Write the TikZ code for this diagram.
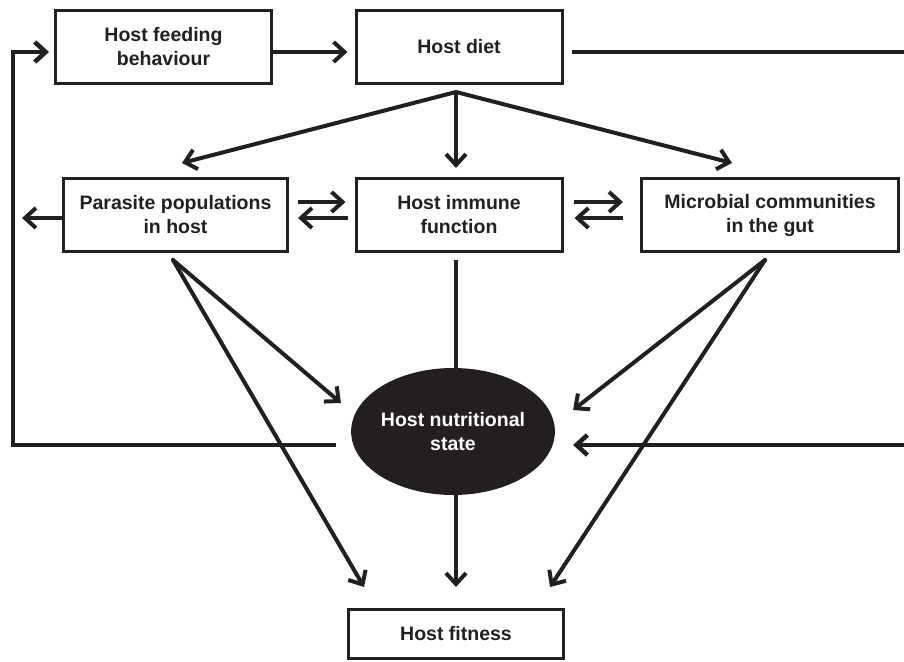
\documentclass[tikz,border=0pt]{standalone}
\usepackage{fontspec}
\setmainfont{Liberation Sans}
\usepackage{tikz}
\usetikzlibrary{shapes,positioning,arrows.meta}
\definecolor{ink}{HTML}{231F20}
\tikzset{box/.style={rectangle,draw=ink,line width=3pt,align=center,text=ink,font=\bfseries\fontsize{19.5}{24}\selectfont,minimum height=73pt,inner sep=0pt}}
\tikzset{blob/.style={ellipse,fill=ink,text=white,align=center,font=\bfseries\fontsize{19.5}{24}\selectfont,minimum width=194pt,minimum height=127pt,inner sep=0pt}}
\tikzset{arr/.style={draw=ink,line width=4pt,-{Straight Barb[length=11pt,width=20pt]}}}
\tikzset{heavy/.style={draw=ink,line width=4.5pt}}

\begin{document}
\begin{tikzpicture}[x=1pt,y=-1pt]
    \useasboundingbox (0,0) rectangle (904,661);
    \node[box,minimum width=216pt] (feed) at (163.5,47) {Host feeding\\behaviour};
    \node[box,minimum width=206pt] (diet) at (459,47) {Host diet};
    \node[box,minimum width=224pt] (para) at (175.5,215) {Parasite populations\\in host};
    \node[box,minimum width=206pt] (imm) at (459,215) {Host immune\\function};
    \node[box,minimum width=257pt] (mic) at (770,215) {Microbial communities\\in the gut};
    \node[blob] (nut) at (453,431.5) {Host nutritional\\state};
    \node[box,minimum width=215pt,minimum height=49pt] (fit) at (456,634) {Host fitness};

    \coordinate (edgeA) at (904,52);
    \coordinate (edgeB) at (904,445);
    \coordinate (farL) at (22,218);
    \coordinate (fork) at ([xshift=-3pt,yshift=-7pt]diet.south);
    \coordinate (pfork) at ([xshift=-2.5pt,yshift=-7pt]para.south);
    \coordinate (mfork) at ([xshift=-5pt,yshift=-7pt]mic.south);

    \draw[arr] ([yshift=-5pt]feed.east) -- ([xshift=-7pt,yshift=-5pt]diet.west);
    \draw[heavy] ([xshift=8pt,yshift=-5pt]diet.east) -- (edgeA);
    \draw[arr,line width=4.5pt] (edgeB) -- ([xshift=18pt,yshift=-13.5pt]nut.east);
    \draw[arr,line width=4.5pt] ([xshift=-15pt,yshift=-13.5pt]nut.west) -| ([xshift=-41pt,yshift=-5pt]feed.west) -- ([xshift=-5pt,yshift=-5pt]feed.west);

    \draw[arr,line cap=round] (fork) -- ([xshift=6.5pt,yshift=14pt]para.north);
    \draw[arr,line cap=round] (fork) -- ([xshift=-3pt,yshift=9pt]imm.north);
    \draw[arr,line cap=round] (fork) -- ([xshift=-38pt,yshift=14pt]mic.north);

    \draw[arr] ([xshift=9pt,yshift=13pt]para.east) -- ([xshift=-9pt,yshift=13pt]imm.west);
    \draw[arr] ([xshift=-7pt,yshift=-3pt]imm.west) -- ([xshift=9pt,yshift=-3pt]para.east);
    \draw[arr] ([xshift=10pt,yshift=13pt]imm.east) -- ([xshift=-17pt,yshift=13pt]mic.west);
    \draw[arr] ([xshift=-17pt,yshift=-3pt]mic.west) -- ([xshift=11pt,yshift=-3pt]imm.east);
    \draw[arr] ([yshift=-3pt]para.west) -- (farL);

    \draw[arr,line cap=round] (pfork) -- ([xshift=-10pt,yshift=28.5pt]nut.west);
    \draw[arr,line cap=round] (pfork) -- ([xshift=-92pt,yshift=21pt]fit.north);
    \draw[arr,line cap=round] (mfork) -- ([xshift=18pt,yshift=21.5pt]nut.east);
    \draw[arr,line cap=round] (mfork) -- ([xshift=94pt,yshift=21pt]fit.north);
    \draw[draw=ink,line width=4pt] ([xshift=-3pt,yshift=-7pt]imm.south) -- ([xshift=3pt]nut.north);
    \draw[arr] ([xshift=3pt]nut.south) -- ([yshift=21pt]fit.north);
\end{tikzpicture}
\end{document}
